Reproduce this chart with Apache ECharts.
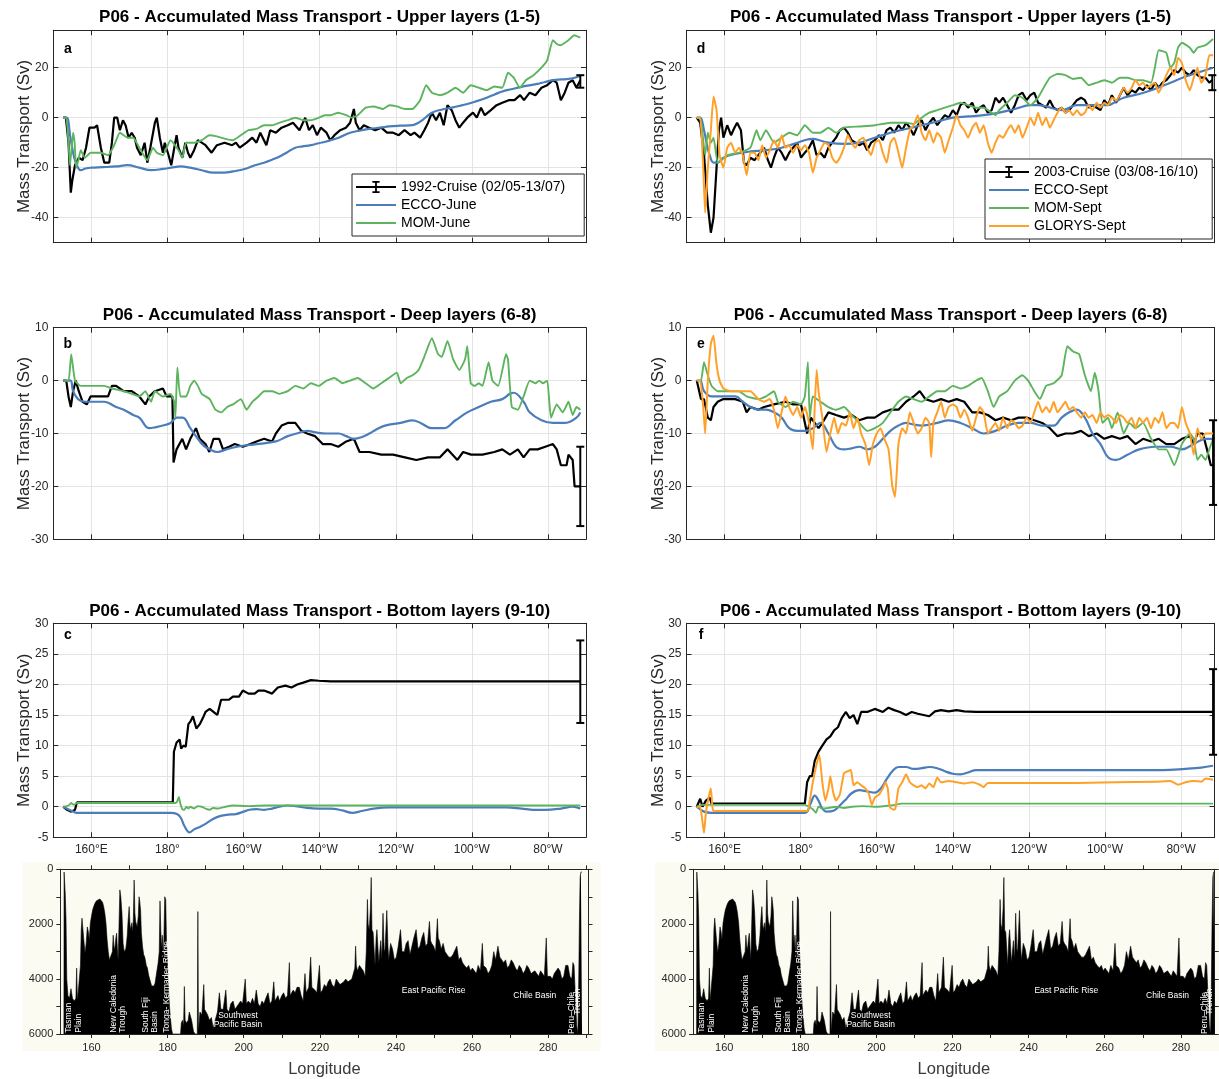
<!DOCTYPE html>
<html>
<head>
<meta charset="utf-8">
<title>P06 - Accumulated Mass Transport</title>
<script src="https://cdn.jsdelivr.net/npm/echarts@6/dist/echarts.min.js"></script>
<style>
  html, body { margin: 0; padding: 0; background: #ffffff; }
  #chart { width: 1219px; height: 1079px; }
</style>
</head>
<body>
<div id="chart"></div>
<script>
// ---------------- data ----------------
const LON_TICKS = [160, 180, 200, 220, 240, 260, 280];
const BATHY_LON_TICKS = [160, 170, 180, 190, 200, 210, 220, 230, 240, 250, 260, 270, 280, 290];
const UPPER_TICKS = [-40, -20, 0, 20];
const DEEP_TICKS = [-30, -20, -10, 0, 10];
const BOTTOM_TICKS = [-5, 0, 5, 10, 15, 20, 25, 30];
const DEPTH_TICKS = [0, 1000, 2000, 3000, 4000, 5000, 6000];
const DEPTH_LABELS = [0, 2000, 4000, 6000];

const TITLES = [
  'P06 - Accumulated Mass Transport - Upper layers (1-5)',
  'P06 - Accumulated Mass Transport - Deep layers (6-8)',
  'P06 - Accumulated Mass Transport - Bottom layers (9-10)'
];
const LETTERS = [['a', 'b', 'c'], ['d', 'e', 'f']];
const NAMES_1992 = ['1992-Cruise (02/05-13/07)', 'ECCO-June', 'MOM-June'];
const NAMES_2003 = ['2003-Cruise (03/08-16/10)', 'ECCO-Sept', 'MOM-Sept', 'GLORYS-Sept'];

// 1992 occupation, upper layers (lon, Sv)
const cruise1992Upper = [[152.6,0],[153.3,0],[154.0,-10],[154.6,-30],[155.0,-25],[155.7,-19],[156.7,-16],[157.7,-17],[158.6,-12],[159.5,-4],[160.8,-4],[161.5,-3],[162.5,-12],[163.4,-18],[164.7,-18],[165.4,-10],[166.0,0],[166.8,0],[167.5,-5],[168.3,-1],[169.0,-3],[169.8,-8],[170.6,-6],[171.4,-8],[172.0,-12],[173.0,-15],[174.0,-10],[174.7,-18],[175.5,-12],[176.7,-2],[177.2,0],[178.0,-8],[178.8,-14],[179.3,-10],[180.3,-15],[181.0,-19],[181.8,-12],[182.4,-7],[182.9,-12],[183.9,-16],[184.7,-10],[185.4,-14],[186.0,-16],[187.0,-13],[188.0,-9],[189.0,-10],[190.0,-11],[191.6,-14],[193.0,-11],[195.0,-10],[197.0,-11],[198.0,-10],[199.0,-12],[200.8,-10],[202.3,-8],[203.4,-10],[204.4,-6],[206.0,-11],[207.0,-5],[208.5,-6],[210.0,-4],[211.6,-3],[213.0,-2],[214.7,-5],[216.2,0],[217.2,-5],[218.2,-3],[219.3,-7],[220.3,-4],[221.8,-6],[222.8,-9],[223.9,-7],[225.4,-5],[226.9,-4],[228.0,-2],[229.0,3.5],[229.5,-2],[230.5,-5],[231.6,-3],[233.0,-4],[234.6,-5],[236.2,-4],[237.7,-6],[239.3,-6],[240.8,-7],[242.3,-5],[243.9,-7],[244.9,-6],[246.4,-8],[247.5,-5],[248.5,-2],[249.5,2],[250.6,-1],[251.6,2],[252.6,-3],[253.6,5],[254.7,3],[255.7,-1],[256.7,-4],[257.7,-2],[258.8,0],[260.3,2],[261.3,0],[262.4,4],[263.4,1],[265.0,3],[266.5,5],[268.0,6],[269.7,7],[271.2,7],[272.7,9],[273.7,7],[275.2,10],[276.7,9],[278.3,12],[279.8,13],[281.3,15],[282.3,14],[283.4,7],[284.4,10],[285.4,14],[286.5,15],[287.5,12],[288.5,15]];
const eccoJuneUpper = [[152.6,0],[153.5,0],[154.5,-8],[155.5,-16],[156.5,-20],[157.2,-21],[158.5,-20.3],[160,-20],[163,-19.8],[166.5,-19.5],[169.5,-19],[172.6,-20],[175.7,-21],[178.8,-20.5],[181,-20],[183.4,-19.5],[186,-20],[189,-21],[192,-22],[195,-22],[197.2,-21.5],[200.3,-20.5],[203,-19],[205.4,-18],[207.5,-16.8],[209.5,-15.5],[211.5,-13.8],[213.6,-12],[215.5,-11.5],[217.7,-11],[219.8,-10.2],[221.8,-9.5],[225,-8],[228,-6],[230.5,-5.2],[233,-4.5],[236,-4],[238.2,-3.5],[241,-3.2],[244.4,-3],[246,-2],[247,-1],[249.5,2],[252,3.2],[254.7,4],[257,4.8],[258.8,5.5],[261,6.5],[263.9,8],[266,9.3],[268,10.5],[270,11.3],[272.1,12],[274.6,12.8],[277.2,13.5],[279.3,14.3],[281.3,15],[283.4,15.3],[285.4,15.5],[287,16],[288.5,16.8]];
const momJuneUpper = [[152.6,0],[153.4,0],[154.0,-10],[154.4,-19],[155.2,-6],[155.6,-10],[156.0,-20],[156.6,-17],[157.2,-13],[158.3,-16],[159.8,-14],[162.4,-14],[164.4,-15],[166.0,-11],[167.5,-6],[169.5,-8],[171.0,-8],[172.6,-12],[174.7,-17],[176.2,-12],[177.2,-14],[178.8,-15],[180.8,-9],[182.9,-13],[183.9,-16],[184.9,-10],[187.0,-10],[189.0,-9],[191.0,-7],[193.0,-7.5],[195.2,-8.5],[197.2,-9],[199.3,-7],[201.3,-5],[203.4,-4.5],[205.4,-3],[207.5,-3],[209.5,-2],[211.6,-1],[213.6,0],[215.7,-1],[217.7,-1],[219.8,0],[221.3,1],[222.9,1],[224.9,2],[227.0,1],[228.5,0],[230.0,1],[232.1,4],[234.2,4.5],[236.7,3.5],[238.3,5],[240.3,4.5],[242.4,3.5],[244.4,3.5],[246.4,7],[248.0,13],[249.5,10],[251.6,9],[253.6,10],[255.7,12],[257.7,10],[259.7,13],[261.8,12],[263.9,11],[265.9,12.5],[268.0,12],[269.5,18],[271.0,16],[272.6,12],[274.2,15],[276.2,17],[278.3,20],[279.8,23],[281.3,31],[282.3,29.5],[283.4,29],[285.4,31],[286.9,33],[288.5,32]];
const err1992Upper = [[288.5, 12, 17]];

// 1992 occupation, deep layers
const cruise1992Deep = [[152.6,0],[153.4,0],[154.0,-3],[154.6,-5],[155.2,-2],[155.9,0],[156.7,-2],[157.7,-4],[158.8,-4.5],[159.8,-3],[162.4,-3],[164.4,-3],[165.4,-1],[166.5,-1],[168.5,-2],[170.6,-2],[172.6,-3],[174.2,-4.5],[175.2,-3],[176.7,-2],[178.8,-1.5],[179.8,-3],[181.3,-3],[181.6,-15.5],[182.4,-13],[183.9,-11],[184.9,-13],[186.0,-11],[187.5,-9],[188.5,-11],[190.0,-12],[191.0,-13.5],[192.1,-11],[193.6,-11],[194.6,-13],[196.2,-12.5],[197.7,-12],[199.8,-12.5],[201.8,-12],[203.4,-11.5],[205.4,-11],[207.5,-11.5],[208.5,-10],[210.0,-8.5],[211.6,-8],[213.6,-8],[215.2,-9.5],[216.7,-10],[218.8,-10.5],[220.8,-12],[222.9,-12],[224.9,-12.5],[227.0,-11.5],[229.0,-11],[230.5,-13.5],[233.1,-13.5],[236.2,-14],[239.3,-14],[242.4,-14.5],[245.4,-15],[248.5,-14.5],[251.6,-14.5],[253.6,-13],[256.2,-15],[257.7,-13.5],[259.8,-14],[262.8,-14],[265.9,-13.5],[268.0,-13],[270.0,-14],[272.1,-13],[273.6,-14.5],[275.2,-13],[277.3,-13],[279.3,-12.5],[281.3,-12],[282.3,-13],[283.4,-16],[284.9,-16],[285.4,-14],[286.5,-15],[287.0,-20],[288.0,-20],[288.5,-20]];
const eccoJuneDeep = [[152.6,0],[154.5,0],[155.2,-2],[156.5,-3.5],[158.3,-4],[163.4,-4],[166.5,-5],[168.5,-5.5],[171.0,-6.5],[172.6,-7],[175.2,-9],[177,-8.8],[178.8,-8.5],[180.8,-8],[182.5,-7],[184.0,-7],[186.0,-9],[188.0,-11],[189.5,-12.3],[191.1,-13],[193.1,-13.5],[195.5,-13],[198.3,-12.5],[203.4,-12],[208.5,-11.5],[211.6,-10.5],[214,-10],[216.7,-9.5],[219,-9.8],[221.8,-10],[225.0,-10],[227,-10.5],[229.0,-11],[231,-10.7],[233.1,-10],[235,-9.2],[237.2,-8.5],[241.3,-8],[244.4,-7.5],[246.5,-8],[249.5,-9],[252.6,-9],[255.7,-7.5],[258.8,-6],[261.8,-5],[265.0,-4],[268.0,-3.5],[270.0,-2.5],[271.0,-2.3],[273.6,-4],[275.2,-6],[278.3,-7.5],[281.3,-8],[284.4,-8],[287.5,-7],[288.5,-6]];
const momJuneDeep = [[152.6,0],[154.0,0],[154.7,5],[155.7,0],[157.2,-1],[161.3,-1],[163.4,-1],[165.4,-1.5],[168.5,-2],[170.6,-2.5],[172.6,-3],[174.2,-2],[175.7,-4],[176.7,-2],[178.8,-3],[180.8,-2.5],[181.8,-4],[182.1,-7],[182.6,2.5],[183.4,-3],[184.9,-3],[186.0,-1],[187.0,0],[188.0,-1],[189.0,-2.5],[191.1,-3.5],[192.6,-5.5],[194.2,-6],[195.7,-5],[197.2,-4.5],[199.3,-3.5],[200.8,-5.5],[202.3,-4],[203.9,-3],[205.4,-2],[207.5,-2],[209.5,-2.5],[211.6,-2],[213.6,-1],[215.7,-1.5],[217.7,-0.5],[219.8,-1],[221.8,0],[223.9,0.5],[226.0,-0.5],[228.0,0],[230.0,0.5],[232.1,-0.5],[234.1,-1.5],[236.2,-0.5],[238.2,0.5],[240.3,1.5],[241.3,-0.5],[242.9,0.5],[244.4,1],[246.0,2],[247.5,4.5],[249.5,8],[251.1,5],[252.1,4.5],[253.6,7.5],[255.1,4],[256.7,2],[258.2,4],[258.8,6.5],[259.7,-0.5],[260.8,-1],[261.8,-0.5],[262.8,-1],[264.4,3.5],[265.4,0],[266.9,-1],[268.6,4],[269.0,5],[269.5,4],[270.5,-5],[272.1,-5.5],[273.6,-3],[275.2,0],[276.7,-0.5],[277.7,0],[278.7,-0.5],[279.8,0],[280.8,-7],[282.3,-4.5],[283.9,-6],[285.4,-4],[286.5,-6.5],[287.5,-5],[288.5,-5.5]];
const err1992Deep = [[288.5, -27.5, -12.5]];

// 1992 occupation, bottom layers
const cruise1992Bottom = [[152.6,0],[153.6,-0.5],[154.7,-0.8],[155.7,-0.5],[156.2,0.7],[181.4,0.7],[181.7,9],[182.4,10.5],[183.2,11],[183.6,9.5],[184.2,10],[184.8,9.8],[185.5,13.5],[186.1,14],[186.7,14.8],[187.6,12.8],[188.5,13.5],[189.3,14.5],[190.0,15.5],[191.1,16],[192.1,15.5],[193.1,15],[194.1,17.5],[195.2,17.5],[196.2,17.5],[197.2,18],[198.8,18],[199.8,19],[201.3,18.5],[202.9,18.5],[203.9,19],[205.4,19],[207.5,18.5],[209.0,19.5],[211.0,19.8],[212.6,19.5],[214.1,20],[215.7,20.3],[217.7,20.7],[219.8,20.6],[222.9,20.5],[226.0,20.5],[288.5,20.5]];
const eccoJuneBottom = [[152.6,0],[155.2,-0.8],[156.2,-1],[180.8,-1],[182.5,-1.2],[183.5,-1.8],[184.5,-3.2],[185.8,-4.2],[187.0,-3.7],[188.5,-3.3],[190.0,-2.8],[192.0,-2],[194.0,-1.5],[196.0,-1.3],[198.0,-1.2],[200.0,-0.8],[201.5,-0.5],[203.4,-0.4],[205.4,-0.5],[207.5,-0.3],[209.5,0],[211.6,0.2],[213.6,0.1],[216.7,-0.2],[219.8,-0.3],[222.9,-0.3],[226.0,-0.6],[228.5,-1],[231.1,-0.7],[234.2,-0.3],[238.3,-0.1],[248.5,-0.1],[269.0,-0.1],[273.1,-0.3],[276.2,-0.5],[279.3,-0.5],[283.4,-0.3],[286.5,0],[288.5,-0.3]];
const momJuneBottom = [[152.6,0],[154.0,0.2],[154.7,0.6],[155.4,0.3],[156.2,0.6],[181.8,0.6],[182.5,0.8],[183.0,1.6],[183.4,0.5],[183.9,-0.4],[184.4,-0.5],[185.0,0],[185.5,-0.3],[186.0,0],[187.0,-0.3],[188.0,0.1],[189.0,0],[190.0,-0.3],[191.1,-0.5],[192.0,-0.2],[193.1,-0.3],[195.2,0],[197.2,0.2],[201.3,0.1],[205.4,0.2],[288.5,0.2]];
const err1992Bottom = [[288.5, 13.7, 27.2]];

// 2003 occupation, upper layers
const cruise2003Upper = [[152.7,0],[153.6,-2],[154.6,-15],[155.6,-35],[156.4,-46],[157.1,-40],[157.9,-20],[158.5,-5],[159.1,0],[159.7,-8],[160.7,-3],[161.7,-7],[162.6,-4],[163.3,-2],[164.3,-5],[165.1,-18],[165.8,-19],[166.8,-16],[167.9,-17],[168.9,-15],[170.4,-12],[171.4,-17],[172.2,-20],[173.0,-16],[174.0,-12],[175.0,-14],[176.0,-17],[177.0,-14],[178.0,-12],[179.1,-10],[180.1,-16],[181.1,-14],[182.2,-12],[183.2,-9],[184.2,-15],[185.2,-14],[186.3,-16],[187.3,-12],[188.3,-10],[189.3,-8],[190.3,-5],[191.4,-4],[192.4,-6],[193.4,-9],[194.4,-10],[195.4,-11],[196.5,-10],[197.5,-13],[198.5,-10],[199.5,-9],[200.6,-7],[201.6,-9],[202.6,-5],[203.6,-4],[204.6,-6],[205.7,-3],[206.7,-5],[207.7,-2],[208.7,-4],[209.7,-7],[210.8,-3],[211.8,-1],[212.8,-5],[213.8,-2],[214.9,0],[215.9,-3],[216.9,-1],[217.9,1],[218.9,0],[220.0,3],[221.0,1],[222.0,5],[223.0,6],[224.0,4],[225.1,6],[226.1,2],[227.1,4],[228.1,5],[229.2,2],[230.2,3],[231.2,8],[232.2,6],[233.2,8],[234.3,5],[235.3,2],[236.3,5],[237.3,9],[238.3,10],[239.4,7],[240.4,9],[241.4,10],[242.4,6],[243.5,5],[244.5,4],[245.5,7],[246.5,4],[247.5,3],[248.6,4],[249.6,2],[250.6,3],[251.6,5],[252.6,7],[253.7,8],[254.7,7],[255.7,4],[256.7,5],[257.8,4],[258.8,3],[259.8,7],[260.8,5],[261.8,9],[262.9,6],[263.9,9],[264.9,12],[265.9,9],[267.0,11],[268.0,10],[269.0,12],[270.0,11],[271.0,13],[272.1,11],[273.1,14],[274.1,12],[275.1,14],[276.1,15],[277.2,17],[278.2,19],[279.2,18],[280.2,20],[281.2,18],[282.3,17],[283.3,19],[284.3,17],[285.3,16],[286.4,16],[287.4,14],[288.2,15]];
const eccoSeptUpper = [[152.7,0],[153.6,0],[154.6,-5],[155.4,-11],[156.1,-15],[157.1,-18],[158.2,-18],[159.7,-16],[162.8,-14.5],[166.8,-13.5],[170.9,-13],[175.0,-12],[179.1,-10],[181.5,-8.8],[183.2,-8.5],[185.5,-9.3],[187.3,-10],[191.4,-10.5],[195.4,-10],[197.5,-9],[199.5,-8],[203.6,-6],[207.7,-4.5],[211.8,-3],[215.9,-1.5],[220.0,0],[224.0,0.5],[228.1,1],[232.2,2],[236.3,3.5],[240.4,5],[242.5,5],[244.5,4.5],[248.6,3],[252.6,5],[256.7,5],[260.8,5],[262.9,6.5],[264.9,8],[269.0,9.5],[273.1,11.5],[277.2,14],[281.2,16.5],[285.3,18.5],[288.4,20]];
const momSeptUpper = [[152.7,0],[153.6,0],[154.1,-5],[154.9,-15],[155.6,-6],[156.4,-10],[157.1,-8],[158.2,-18],[159.2,-17],[160.7,-15],[163.8,-14],[166.8,-12],[168.4,-5],[169.4,-9],[170.9,-5],[173.0,-10],[175.0,-8],[177.0,-6],[179.1,-7],[181.1,-3],[183.2,-6],[185.2,-6],[187.3,-4],[189.3,-6],[191.4,-4],[195.4,-3.5],[199.5,-3],[203.6,-2],[207.7,-2],[209.7,-2.5],[211.8,0],[213.8,2],[215.9,3],[217.9,4],[220.0,5],[222.0,6],[224.0,5],[226.1,4],[228.1,4],[230.2,2],[231.2,1],[232.2,3],[234.3,6],[236.3,9],[238.3,8],[240.4,5],[242.4,8],[243.5,11],[245.5,16],[247.5,17.5],[249.6,17],[251.6,15.5],[253.7,16],[255.7,13],[257.8,14],[259.8,15],[261.8,14],[263.9,16],[265.9,16],[268.0,15],[270.0,15],[272.1,14],[273.1,20],[274.1,27],[276.1,26],[277.2,20],[278.2,22],[279.2,28],[280.2,30],[282.3,28],[283.3,26],[284.3,28],[286.4,29],[288.4,31.5]];
const glorysSeptUpper = [[152.7,0],[153.6,0],[154.4,-20],[154.9,-38],[155.6,-20],[156.4,-5],[157.1,8.5],[157.9,3],[158.7,-15],[159.7,-20],[160.7,-12],[161.7,-10],[162.8,-14],[163.8,-12],[164.8,-15],[165.8,-23],[166.8,-14],[167.9,-14],[168.9,-17],[169.9,-11],[170.9,-16],[171.9,-13],[173.0,-9],[174.0,-12],[175.0,-7],[176.0,-12],[177.0,-11],[178.0,-14],[179.1,-11],[180.1,-13],[181.1,-11],[182.2,-14],[183.2,-22],[184.2,-16],[185.2,-13],[186.3,-10],[187.3,-11],[188.3,-16],[189.3,-18],[190.3,-16],[191.4,-12],[192.4,-7],[193.4,-10],[194.4,-12],[195.4,-9],[196.5,-8],[197.5,-12],[198.5,-15],[199.5,-10],[200.6,-9],[201.6,-14],[202.6,-18],[203.6,-10],[204.6,-8],[205.7,-14],[206.7,-20],[207.7,-12],[208.7,-5],[209.7,-3],[210.8,1],[211.8,-6],[212.8,-9],[213.8,-5],[214.9,-10],[215.9,-6],[216.9,-8],[217.9,-14],[218.9,-9],[220.0,-4],[221.0,1],[222.0,-3],[223.0,-5],[224.0,-8],[225.1,-4],[226.1,-2],[227.1,-6],[228.1,-3],[229.2,-10],[230.2,-14],[231.2,-10],[232.2,-7],[233.2,-8],[234.3,-5],[235.3,-3],[236.3,-6],[237.3,-3],[238.3,-8],[239.4,-4],[240.4,0],[241.4,-3],[242.4,2],[243.5,-3],[244.5,0],[245.5,-4],[246.5,-1],[247.5,2],[248.6,4],[249.6,2],[250.6,3],[251.6,1],[252.6,3],[253.7,1],[254.7,2],[255.7,5],[256.7,3],[257.8,6],[258.8,4],[259.8,6],[260.8,5],[261.8,8],[262.9,7],[263.9,9],[264.9,12],[265.9,10],[267.0,12],[268.0,15],[269.0,13],[270.0,14],[271.0,12],[272.1,13],[273.1,14],[274.1,10],[275.1,13],[276.1,17],[277.2,20],[278.2,17],[279.2,24],[280.2,22],[281.2,15],[282.3,11],[283.3,16],[284.3,20],[285.3,14],[286.4,17],[287.4,25],[288.4,25]];
const err2003Upper = [[288.2, 11, 17]];

// 2003 occupation, deep layers
const cruise2003Deep = [[152.7,0],[153.8,-3.5],[154.6,-3.5],[155.6,-7],[156.4,-7.5],[157.1,-5],[158.2,-4],[159.7,-3.5],[162.8,-3.5],[164.8,-4],[165.8,-6],[166.8,-5],[168.9,-5.5],[170.4,-5],[173.0,-4.5],[176.0,-4],[178.0,-4.5],[180.1,-4.5],[181.7,-10],[182.7,-7],[183.7,-8],[184.7,-9],[185.7,-8],[187.3,-6],[189.3,-6.5],[191.4,-7],[193.4,-6.5],[195.4,-7.5],[197.5,-7],[199.5,-7],[201.6,-6],[203.6,-5.5],[205.7,-5.5],[207.7,-4],[209.7,-3],[211.3,-2],[212.8,-3.5],[214.9,-4],[216.9,-3.5],[218.9,-4],[221.0,-3.5],[223.0,-4],[225.1,-6],[227.1,-6],[229.2,-6.5],[231.2,-7.5],[233.2,-7],[235.3,-7.5],[237.3,-7],[239.4,-7],[241.4,-7.5],[243.5,-8],[245.5,-9],[247.5,-10.5],[249.6,-10],[251.6,-10],[253.7,-9.5],[255.7,-10.5],[257.8,-10],[259.8,-11],[261.8,-10.5],[263.9,-11],[265.9,-10.5],[268.0,-12],[270.0,-11],[272.1,-11.5],[274.1,-11],[276.1,-12],[278.2,-12],[280.2,-11],[282.3,-10.5],[283.3,-12],[284.3,-10],[285.7,-10],[286.8,-13],[287.8,-16],[288.4,-16]];
const eccoSeptDeep = [[152.7,0],[153.6,0],[154.6,-2],[156.6,-3],[158.7,-3],[162.8,-3],[164.8,-4],[166.8,-5],[168.9,-5.5],[170.9,-5.5],[173.0,-6],[175.0,-7],[177.0,-9],[179.1,-9.5],[181.1,-9.5],[183.2,-9],[185.2,-8],[187.3,-10],[189.3,-12.5],[191.4,-13],[193.4,-12.8],[195.4,-12.5],[197.5,-13],[199.5,-12.5],[201.6,-11],[203.6,-9.5],[205.7,-8.5],[207.7,-8],[209.7,-8.3],[211.8,-8.5],[215.9,-8],[218.9,-7.5],[222.0,-8],[225.1,-9],[228.1,-10],[231.2,-9.5],[234.3,-8.5],[237.3,-8],[240.4,-8],[243.5,-8.5],[246.5,-8.5],[248.6,-7],[250.6,-6],[252.6,-5.5],[254.7,-7],[256.7,-10],[258.8,-12],[260.8,-14.5],[262.9,-15],[265.9,-14],[269.0,-13],[273.1,-12.5],[277.2,-12.5],[280.2,-13],[283.3,-12],[286.4,-11],[288.4,-11]];
const momSeptDeep = [[152.7,0],[153.8,0],[154.6,3.5],[155.6,1],[156.6,-1],[158.2,-2],[160.7,-2],[163.8,-2],[165.8,-3],[168.9,-3.5],[170.9,-3],[173.0,-2],[174.0,-4],[176.0,-5],[178.0,-4],[180.1,-4.5],[181.1,-3],[181.9,3.5],[182.4,-7],[183.2,-3],[185.2,-4],[187.3,-5],[189.3,-5.5],[191.4,-5],[193.4,-6.5],[195.4,-8],[197.5,-9.5],[199.5,-9],[201.6,-8],[203.6,-6],[205.7,-4],[207.7,-3],[209.7,-3.5],[211.8,-4],[213.8,-3],[215.9,-2],[217.9,-2],[220.0,-1],[222.0,-1.5],[224.0,-1],[226.1,0],[227.6,0.5],[229.2,-2],[230.7,-5],[232.2,-3],[234.3,-2],[236.3,0],[238.3,1],[239.8,0],[241.4,-2],[242.9,-3.5],[244.5,-1],[246.5,-0.5],[248.6,1],[250.1,6.5],[251.6,5.5],[253.2,5],[254.7,1],[256.3,-2],[257.3,1.5],[258.3,-2],[259.3,-8],[260.8,-7],[261.8,-9],[263.3,-6],[264.9,-10],[266.4,-8],[268.0,-9],[270.0,-8],[272.1,-11],[274.1,-13],[276.1,-13],[278.2,-16],[280.2,-12],[282.3,-10],[283.3,-11],[284.3,-15],[285.3,-14],[286.4,-15],[287.4,-13],[288.4,-11]];
const glorysSeptDeep = [[152.7,0],[153.6,0],[154.4,-5],[154.9,-10],[155.6,0],[156.4,7],[157.1,8.5],[157.9,3],[158.7,0],[159.7,-1.5],[161.7,-2],[164.8,-2],[166.8,-2],[168.9,-3.5],[170.4,-4],[171.9,-3.5],[173.0,-5.5],[174.0,-9],[175.0,-6],[176.0,-3],[177.0,-5],[178.0,-6.5],[179.1,-5],[180.1,-7],[181.1,-5],[182.2,-8],[183.2,-13],[183.7,-5],[184.2,2],[184.7,-2],[185.7,-7],[186.8,-13.5],[187.8,-10],[188.8,-7],[189.8,-10],[190.8,-8],[191.9,-8.5],[192.9,-6],[193.9,-9],[194.9,-7],[195.9,-10],[197.0,-12],[198.0,-16],[199.0,-12],[200.0,-10],[201.0,-9],[202.0,-11],[203.1,-13],[204.1,-20],[204.8,-22],[205.7,-12],[206.7,-9],[207.7,-10],[208.7,-6],[209.7,-8],[210.8,-10],[211.8,-9],[212.8,-7],[213.8,-8],[214.3,-14.5],[214.9,-8],[215.9,-6],[216.9,-4],[217.9,-7],[218.9,-5],[220.0,-4.5],[221.0,-5],[222.0,-7],[223.0,-5.5],[224.0,-7],[225.1,-9.5],[226.1,-7],[227.1,-5],[228.1,-6],[229.2,-10],[230.2,-9],[231.2,-8],[232.2,-9.5],[233.2,-7],[234.3,-9],[235.3,-7.5],[236.3,-8],[237.3,-9],[238.3,-8.5],[239.4,-7],[240.4,-8],[241.4,-6],[242.4,-4],[243.5,-6],[244.5,-5],[245.5,-6],[246.5,-4],[247.5,-6],[248.6,-5],[249.6,-4],[250.6,-5.5],[251.6,-5],[252.6,-6],[253.7,-7],[254.7,-6],[255.7,-7],[256.7,-6.5],[257.8,-8],[258.8,-6],[259.8,-7],[260.8,-6.5],[261.8,-7],[262.9,-8],[263.9,-6.5],[264.9,-7],[265.9,-8],[267.0,-7],[268.0,-9],[269.0,-7],[270.0,-8],[271.0,-7],[272.1,-9],[273.1,-7],[274.1,-8],[275.1,-6],[276.1,-9],[277.2,-8],[278.2,-8],[279.2,-9],[280.2,-5],[281.2,-8],[282.3,-10],[283.3,-14],[284.3,-9],[285.3,-11],[286.4,-10],[287.4,-10],[288.4,-10]];
const err2003Deep = [[288.4, -23.5, -7.5]];

// 2003 occupation, bottom layers
const cruise2003Bottom = [[152.7,0],[153.6,1.3],[154.2,0],[155.1,1],[156.1,1.5],[156.6,0.5],[181.1,0.5],[181.7,4],[182.4,5],[183.0,5],[183.7,7.5],[184.7,9],[185.7,10],[186.8,11],[187.8,11.5],[188.8,12.5],[189.8,13],[190.8,14.5],[191.9,15.5],[192.9,14.5],[193.9,15],[194.9,13.5],[195.9,15.5],[197.5,15.5],[199.5,16],[201.6,15.5],[203.1,16.2],[204.6,15.8],[206.1,15.5],[207.7,15],[209.2,15.5],[210.8,15.2],[212.3,15],[213.8,14.8],[215.3,15.6],[216.9,15.8],[218.9,15.6],[221.0,15.8],[223.0,15.6],[226.1,15.5],[288.4,15.5]];
const eccoSeptBottom = [[152.7,0],[154.6,-0.8],[156.6,-1],[181.1,-1],[182.6,0.5],[183.7,1.8],[184.7,1],[185.7,-0.3],[186.8,-0.8],[188.8,-0.6],[190.3,0.2],[191.9,1.2],[193.4,2.2],[195.4,2.7],[197.5,2.5],[199.5,2.3],[201.1,3],[202.6,4.5],[204.1,5.8],[205.7,6.5],[207.7,6.5],[209.7,6.2],[211.8,6.3],[213.8,6.5],[215.9,6.3],[217.9,5.8],[220.0,5.4],[222.0,5.3],[224.0,5.6],[226.1,6],[232.2,6],[275.1,6],[281.2,6.2],[285.3,6.4],[288.4,6.7]];
const momSeptBottom = [[152.7,0],[154.1,0.3],[181.1,0.3],[182.2,0],[183.2,-0.4],[184.0,-1],[184.7,0],[185.7,-0.3],[187.3,-0.2],[189.3,0],[191.4,-0.2],[193.4,0],[196.5,0.1],[199.5,0],[203.6,0.2],[206.7,0.5],[288.4,0.5]];
const glorysSeptBottom = [[152.7,0],[153.6,0],[154.1,-2],[154.6,-4.3],[155.1,-1],[155.8,1.5],[156.4,3],[156.8,0],[157.1,-0.7],[181.7,-0.7],[182.4,1],[183.2,4],[184.2,7],[184.9,8.5],[185.7,4],[186.5,1],[187.3,3],[187.8,5],[188.5,2.5],[189.3,1],[190.3,2],[191.4,5.5],[192.4,5.8],[193.2,6],[193.9,3.5],[194.9,4],[195.9,3.5],[197.0,3],[198.0,2],[198.7,0.3],[199.5,1.5],[200.6,2],[201.6,3],[202.3,4],[202.9,3],[203.4,0],[204.4,-0.5],[204.9,-0.3],[205.7,3],[206.7,4],[207.7,5.3],[208.7,4],[209.7,3.5],[210.8,3.2],[211.8,3.5],[212.8,3],[213.8,3.8],[214.9,3.2],[215.9,4.8],[216.9,4],[218.9,4.2],[221.0,4],[223.0,3.8],[225.1,4],[227.1,3.6],[228.1,3.2],[229.2,3.9],[242.4,3.9],[252.6,3.9],[273.1,4.1],[277.2,4.2],[279.2,3.6],[281.2,4],[283.3,4.2],[285.3,4.1],[286.4,4.6],[288.4,4.4]];
const err2003Bottom = [[288.4, 8.5, 22.5]];

// Seafloor depth along the section (lon, m)
const bathymetry = [[152.75,6000],[152.8,100],[152.95,60],[153.1,900],[153.3,1800],[153.5,4000],[153.8,4600],[154.2,4700],[154.6,4350],[155.0,4700],[155.5,4800],[155.9,4700],[156.1,3600],[156.3,4800],[156.8,4800],[157.1,3500],[157.3,2200],[157.5,1780],[157.8,1850],[158.0,2600],[158.3,3050],[158.6,2700],[158.9,2100],[159.2,2300],[159.4,2570],[159.7,1960],[160.0,1700],[160.3,1480],[160.6,1350],[160.9,1240],[161.3,1150],[161.8,1090],[162.2,1080],[162.6,1110],[162.9,1200],[163.2,1360],[163.5,1600],[163.8,1960],[164.1,2570],[164.4,3000],[164.7,3300],[165.2,3350],[165.5,3000],[165.7,2400],[165.9,2800],[166.1,2930],[166.4,2500],[166.6,2330],[166.8,2900],[167.0,3300],[167.2,2200],[167.45,750],[167.7,1000],[168.0,1600],[168.3,2700],[168.6,3000],[168.8,3050],[169.0,2900],[169.2,2690],[169.4,2400],[169.6,1900],[169.9,1360],[170.1,2000],[170.3,2200],[170.6,1950],[170.8,2300],[171.0,1800],[171.2,390],[171.4,1600],[171.6,1900],[172.0,2100],[172.3,1700],[172.5,1000],[172.7,1200],[172.9,1500],[173.1,2300],[173.4,2800],[173.7,3100],[174.0,3200],[174.4,3500],[174.7,3600],[175.0,3850],[175.4,4050],[175.8,4250],[176.1,4270],[176.4,4250],[176.7,4150],[177.1,3780],[177.5,3420],[177.8,3000],[178.0,1150],[178.2,2200],[178.4,2900],[178.6,2400],[178.9,3300],[179.1,2000],[179.25,1000],[179.5,1100],[179.7,2600],[180.0,3600],[180.3,4600],[180.6,5200],[181.0,5800],[181.3,6000],[183.4,6000],[183.6,5600],[183.9,5500],[184.2,5700],[184.4,4270],[184.6,5500],[185.0,5600],[185.4,5500],[185.7,5200],[185.9,5300],[186.3,5500],[186.8,5900],[187.2,6000],[187.8,6000],[187.95,1540],[188.1,5900],[188.5,5200],[189.0,5300],[189.5,4200],[189.7,5100],[190.0,5100],[190.5,5300],[191.0,5500],[191.5,5400],[192.0,5800],[192.5,5500],[193.1,5200],[193.6,4500],[194.0,5100],[194.6,5100],[195.3,4400],[195.6,5100],[196.1,5200],[196.6,4900],[197.2,4800],[197.7,5100],[198.2,5100],[198.7,4900],[199.2,4800],[199.7,4900],[200.4,4000],[200.7,4900],[201.2,4800],[201.8,4900],[202.3,4700],[202.8,4900],[203.3,4400],[203.8,4900],[204.3,5000],[204.8,4800],[205.3,4900],[205.8,4700],[206.4,4500],[206.9,4900],[207.4,4800],[207.9,4100],[208.2,4800],[208.6,4800],[209.0,4600],[209.4,4800],[210.0,4600],[210.5,4500],[211.0,4700],[211.5,4600],[212.0,3400],[212.2,4600],[212.5,4600],[213.0,4400],[213.5,4500],[214.0,4300],[214.6,4300],[215.1,4600],[215.6,4800],[216.1,3800],[216.4,4500],[216.6,4500],[217.1,4300],[217.6,3200],[217.9,4300],[218.1,4300],[218.7,4400],[219.2,4500],[219.9,3500],[220.2,4500],[220.7,4400],[221.2,4200],[221.7,4300],[222.2,4100],[222.7,4000],[223.2,4200],[223.8,4300],[224.3,4000],[224.8,4100],[225.3,4200],[225.8,4200],[226.3,4100],[226.8,4000],[227.4,4100],[227.9,4100],[228.4,4000],[228.9,4000],[229.2,3600],[229.4,2800],[229.6,3500],[229.9,3700],[230.4,3500],[230.9,3600],[231.4,3700],[231.9,3900],[232.2,3000],[232.5,1100],[232.7,2000],[233.0,2200],[233.3,1400],[233.5,300],[233.7,2200],[234.0,2300],[234.5,3500],[234.8,2500],[235.0,2200],[235.5,3400],[236.0,2600],[236.3,3300],[236.6,1600],[236.9,2900],[237.1,3000],[237.6,1500],[237.9,2800],[238.1,3300],[238.6,2700],[239.1,2900],[239.6,3300],[240.1,3200],[240.6,2800],[241.2,2200],[241.6,3000],[242.2,3000],[242.7,2700],[243.2,2600],[243.7,3100],[244.2,2800],[244.7,2500],[245.3,2200],[245.8,2900],[246.3,2800],[246.8,2500],[247.3,2300],[247.8,2800],[248.3,2700],[248.8,1900],[249.1,2600],[249.4,2700],[249.9,2800],[250.4,3000],[250.9,1800],[251.1,2500],[251.4,2600],[251.9,2900],[252.4,2700],[252.9,3000],[253.4,3100],[253.9,3200],[254.5,3200],[255.0,3100],[255.5,3100],[256.0,2800],[256.5,3300],[257.0,3200],[257.5,3400],[258.0,3500],[258.6,3600],[259.1,3500],[259.6,3700],[260.1,3600],[260.6,3700],[261.1,3800],[261.6,3500],[262.2,3700],[262.7,2700],[263.0,3500],[263.7,3600],[264.2,3800],[264.7,3700],[265.2,3500],[265.7,3000],[266.2,3300],[266.8,2800],[267.3,3200],[267.8,3200],[268.3,3400],[268.8,3300],[269.3,3600],[269.8,3500],[270.3,3300],[270.8,3400],[271.4,3600],[271.9,3700],[272.4,3500],[272.9,3600],[273.4,3800],[273.9,3700],[274.4,3500],[274.9,3600],[275.5,3800],[276.0,3800],[276.5,3700],[277.0,3800],[277.5,3900],[278.0,3700],[278.5,3800],[279.0,3900],[279.5,2500],[279.8,3900],[280.1,3900],[280.6,3900],[281.1,4000],[281.6,3800],[282.1,3800],[282.6,3600],[283.1,3700],[283.6,4000],[284.1,3900],[284.6,3500],[285.2,3500],[285.7,3900],[286.2,4000],[286.5,3400],[286.8,3500],[287.2,4800],[287.5,5700],[287.8,6000],[288.0,4500],[288.2,2000],[288.4,300],[288.6,100],[288.9,100]];

// Feature names along the section: [text, lon, depth, rotated]
const FEATURES = [
  ['Tasman', 154.0, 5950, true], ['Plain', 156.6, 5950, true],
  ['New Caledonia', 165.7, 5950, true], ['Trough', 168.3, 5950, true],
  ['South Fiji', 174.3, 5950, true], ['Basin', 176.7, 5950, true],
  ['Tonga- Kermadec Ridge', 179.8, 5950, true],
  ['Southwest', 198.5, 5330, false], ['Pacific Basin', 198.5, 5660, false],
  ['East Pacific Rise', 249.9, 4420, false],
  ['Chile Basin', 276.5, 4600, false],
  ['Peru\u2013Chile', 286.3, 6000, true], ['Trench', 287.7, 5300, true]
];

// ---------------- styling ----------------
const FONT = "'Liberation Sans', Arial, Helvetica, sans-serif";
const FRAME = '#262626';
const GRIDLINE = '#e4e4e4';
const TEXT = '#262626';
const C_CRUISE = '#000000';
const C_ECCO = '#4a7dba';
const C_MOM = '#5db45e';
const C_GLORYS = '#ffa028';

// page geometry (px)
const COLS = [
  { left: 53.3, width: 532.7, xmin: 150, xmax: 290 },
  { left: 686.5, width: 528.1, xmin: 150, xmax: 288.8 }
];
const ROWS = [
  { top: 30.2, height: 212.5, ymin: -50, ymax: 35, ticks: UPPER_TICKS, letterDy: 19, titleY: 17 },
  { top: 327.7, height: 211.6, ymin: -30, ymax: 10, ticks: DEEP_TICKS, letterDy: 16, titleY: 315 },
  { top: 623.3, height: 214, ymin: -5, ymax: 30, ticks: BOTTOM_TICKS, letterDy: 12, titleY: 611 }
];
const BATHY_ROW = { top: 869.3, height: 165 };
const BATHY_COLS = [
  { left: 60.3, width: 528.2, xmin: 151.8, xmax: 290.6 },
  { left: 693.0, width: 521.7, xmin: 151.8, xmax: 288.9 }
];
const LEGEND_POS = [
  { left: 352, top: 174, padRight: 19 },
  { left: 985, top: 159, padRight: 14 }
];

const ICON_LINE = 'path://M0,0h0.01v0.01h-0.01zM0,14h0.01v0.01h-0.01zM0,6.1h40v1.8h-40z';
const ICON_CRUISE = 'path://M0,0h0.01v0.01h-0.01zM0,14h0.01v0.01h-0.01zM0,6.1h40v1.8h-40zM19.1,1.3h1.8v11.4h-1.8zM16.4,1h7.2v1.8h-7.2zM16.4,11.2h7.2v1.8h-7.2z';

function lonLabel(v) {
  if (v < 180) return v + '\u00B0E';
  if (v === 180) return '180\u00B0';
  return (360 - v) + '\u00B0W';
}

const grids = [], xAxes = [], yAxes = [], series = [], graphics = [];

function axisBase(gi, extra) {
  return Object.assign({
    type: 'value', gridIndex: gi,
    axisLine: { show: true, onZero: false, lineStyle: { color: FRAME, width: 1 } },
    axisLabel: { show: false },
    splitLine: { show: false }
  }, extra);
}

// MATLAB-style framed axes: ticks inside on all four sides
function transportAxes(gi, col, row, showX) {
  const xb = xAxes.push(axisBase(gi, {
    position: 'bottom', min: col.xmin, max: col.xmax,
    axisTick: { show: true, inside: true, length: 5, customValues: LON_TICKS, lineStyle: { color: FRAME } },
    axisLabel: { show: showX, customValues: LON_TICKS, formatter: lonLabel, margin: 6,
      fontSize: 12, color: TEXT, fontFamily: FONT },
    splitLine: { show: true, lineStyle: { color: GRIDLINE, width: 1 } }
  })) - 1;
  xAxes.push(axisBase(gi, {
    position: 'top', min: col.xmin, max: col.xmax,
    axisTick: { show: true, inside: true, length: 5, customValues: LON_TICKS, lineStyle: { color: FRAME } }
  }));
  const yl = yAxes.push(axisBase(gi, {
    position: 'left', min: row.ymin, max: row.ymax,
    name: 'Mass Transport (Sv)', nameLocation: 'middle', nameGap: 20, nameMoveOverlap: false,
    nameTextStyle: { fontSize: 17, color: TEXT, fontFamily: FONT },
    axisTick: { show: true, inside: true, length: 5, customValues: row.ticks, lineStyle: { color: FRAME } },
    axisLabel: { show: true, customValues: row.ticks, margin: 5, fontSize: 12, color: TEXT, fontFamily: FONT },
    splitLine: { show: true, lineStyle: { color: GRIDLINE, width: 1 } }
  })) - 1;
  yAxes.push(axisBase(gi, {
    position: 'right', min: row.ymin, max: row.ymax,
    axisTick: { show: true, inside: true, length: 5, customValues: row.ticks, lineStyle: { color: FRAME } }
  }));
  return [xb, yl];
}

function addLine(name, data, color, width, ax, smooth, z) {
  series.push({
    type: 'line', name, data, color,
    xAxisIndex: ax[0], yAxisIndex: ax[1],
    symbol: 'none', showSymbol: false, smooth: smooth || false,
    lineStyle: { color, width }, itemStyle: { color },
    z: z, clip: true, silent: true, animation: false
  });
}

function renderErrorBar(params, api) {
  const x = api.value(0);
  const lo = api.coord([x, api.value(1)]);
  const hi = api.coord([x, api.value(2)]);
  const cap = 4;
  const style = { stroke: C_CRUISE, lineWidth: 2 };
  return {
    type: 'group', children: [
      { type: 'line', shape: { x1: lo[0], y1: lo[1], x2: hi[0], y2: hi[1] }, style },
      { type: 'line', shape: { x1: lo[0] - cap, y1: lo[1], x2: lo[0] + cap, y2: lo[1] }, style },
      { type: 'line', shape: { x1: hi[0] - cap, y1: hi[1], x2: hi[0] + cap, y2: hi[1] }, style }
    ]
  };
}

function addErrorBar(name, data, ax) {
  series.push({
    type: 'custom', name, data, color: C_CRUISE,
    xAxisIndex: ax[0], yAxisIndex: ax[1],
    encode: { x: 0, y: [1, 2] }, renderItem: renderErrorBar,
    z: 6, silent: true, animation: false
  });
}

// panel table: one entry per column/row
const PANELS = [
  { c: 0, r: 0, lines: [[cruise1992Upper, 0], [eccoJuneUpper, 1], [momJuneUpper, 2]], err: err1992Upper },
  { c: 0, r: 1, lines: [[cruise1992Deep, 0], [eccoJuneDeep, 1], [momJuneDeep, 2]], err: err1992Deep },
  { c: 0, r: 2, lines: [[cruise1992Bottom, 0], [eccoJuneBottom, 1], [momJuneBottom, 2]], err: err1992Bottom },
  { c: 1, r: 0, lines: [[cruise2003Upper, 0], [eccoSeptUpper, 1], [momSeptUpper, 2], [glorysSeptUpper, 3]], err: err2003Upper },
  { c: 1, r: 1, lines: [[cruise2003Deep, 0], [eccoSeptDeep, 1], [momSeptDeep, 2], [glorysSeptDeep, 3]], err: err2003Deep },
  { c: 1, r: 2, lines: [[cruise2003Bottom, 0], [eccoSeptBottom, 1], [momSeptBottom, 2], [glorysSeptBottom, 3]], err: err2003Bottom }
];
const LINE_STYLE = [
  { color: C_CRUISE, width: 2.2, smooth: false },
  { color: C_ECCO, width: 2.2, smooth: 0.4 },
  { color: C_MOM, width: 1.9, smooth: 0.15 },
  { color: C_GLORYS, width: 2, smooth: 0.15 }
];

PANELS.forEach(p => {
  const col = COLS[p.c], row = ROWS[p.r];
  const names = p.c === 0 ? NAMES_1992 : NAMES_2003;
  const gi = grids.push({ left: col.left, top: row.top, width: col.width, height: row.height, containLabel: false }) - 1;
  const ax = transportAxes(gi, col, row, p.r === 2);
  p.lines.forEach(([data, k], i) => {
    const st = LINE_STYLE[k];
    addLine(names[k], data, st.color, st.width, ax, st.smooth, 3 + i);
  });
  addErrorBar(names[0], p.err, ax);
  graphics.push({
    type: 'text', x: col.left + col.width / 2, y: row.titleY, z: 50,
    style: { text: TITLES[p.r], fontSize: 17, fontWeight: 'bold', fill: '#000', fontFamily: FONT,
      textAlign: 'center', textVerticalAlign: 'middle' }
  });
  graphics.push({
    type: 'text', x: col.left + 14.5, y: row.top + row.letterDy, z: 50,
    style: { text: LETTERS[p.c][p.r], fontSize: 14, fontWeight: 'bold', fill: '#000', fontFamily: FONT,
      textAlign: 'center', textVerticalAlign: 'middle' }
  });
});

// bathymetry sections (GMT style, ticks outside)
BATHY_COLS.forEach((col, ci) => {
  const left = col.left, top = BATHY_ROW.top, w = col.width, h = BATHY_ROW.height;
  graphics.push({
    type: 'rect', z: -10, silent: true,
    shape: { x: left - 38, y: top - 7, width: w + 50, height: h + 24 },
    style: { fill: '#fbfbf1' }
  });
  const gi = grids.push({ left, top, width: w, height: h, containLabel: false }) - 1;
  const xb = xAxes.push(axisBase(gi, {
    position: 'bottom', min: col.xmin, max: col.xmax,
    name: 'Longitude', nameLocation: 'middle', nameGap: 27,
    nameTextStyle: { fontSize: 16.5, color: '#3a3a3a', fontFamily: FONT },
    axisTick: { show: true, inside: false, length: 4, customValues: BATHY_LON_TICKS, lineStyle: { color: FRAME } },
    axisLabel: { show: true, customValues: LON_TICKS, formatter: v => String(v), margin: 8,
      fontSize: 11, color: TEXT, fontFamily: FONT }
  })) - 1;
  xAxes.push(axisBase(gi, {
    position: 'top', min: col.xmin, max: col.xmax,
    axisTick: { show: true, inside: false, length: 4, customValues: BATHY_LON_TICKS, lineStyle: { color: FRAME } }
  }));
  const yl = yAxes.push(axisBase(gi, {
    position: 'left', min: 0, max: 6000, inverse: true,
    axisTick: { show: true, inside: false, length: 4, customValues: DEPTH_TICKS, lineStyle: { color: FRAME } },
    axisLabel: { show: true, customValues: DEPTH_LABELS, formatter: v => String(v), margin: 7,
      fontSize: 11, color: TEXT, fontFamily: FONT }
  })) - 1;
  yAxes.push(axisBase(gi, {
    position: 'right', min: 0, max: 6000, inverse: true,
    axisTick: { show: true, inside: false, length: 4, customValues: DEPTH_TICKS, lineStyle: { color: FRAME } }
  }));
  series.push({
    type: 'line', name: 'Depth' + (ci ? ' ' : ''), data: bathymetry,
    xAxisIndex: xb, yAxisIndex: yl,
    symbol: 'none', showSymbol: false, smooth: false,
    lineStyle: { color: '#000', width: 0.6 },
    areaStyle: { color: '#000', opacity: 1, origin: 'end' },
    z: 2, clip: true, silent: true, animation: false
  });
  // feature names placed in data coordinates via a custom series
  series.push({
    type: 'custom', name: 'Features' + (ci ? ' ' : ''), data: FEATURES,
    xAxisIndex: xb, yAxisIndex: yl, encode: { x: 1, y: 2 }, z: 20, silent: true, animation: false,
    renderItem: (params, api) => {
      const f = FEATURES[params.dataIndex];
      const pt = api.coord([f[1], f[2]]);
      return {
        type: 'text', x: pt[0], y: pt[1], rotation: f[3] ? Math.PI / 2 : 0,
        style: { text: f[0], fill: '#ffffff', fontSize: 8.5, fontFamily: FONT,
          textAlign: f[3] ? 'left' : 'center', textVerticalAlign: 'middle' }
      };
    }
  });
});

function legendFor(names, pos) {
  return {
    orient: 'vertical', left: pos.left, top: pos.top,
    itemWidth: 40, itemHeight: 14, itemGap: 4,
    padding: [6, pos.padRight, 6, 4],
    borderColor: FRAME, borderWidth: 1, backgroundColor: '#ffffff',
    textStyle: { fontSize: 14, color: '#000', fontFamily: FONT },
    itemStyle: { borderWidth: 0 },
    selectedMode: false, z: 30,
    data: names.map((n, i) => ({ name: n, icon: i === 0 ? ICON_CRUISE : ICON_LINE }))
  };
}

const chart = echarts.init(document.getElementById('chart'), null, { renderer: 'canvas' });
chart.setOption({
  backgroundColor: '#ffffff',
  animation: false,
  textStyle: { fontFamily: FONT },
  grid: grids,
  xAxis: xAxes,
  yAxis: yAxes,
  legend: [legendFor(NAMES_1992, LEGEND_POS[0]), legendFor(NAMES_2003, LEGEND_POS[1])],
  graphic: { elements: graphics },
  series
});
</script>
</body>
</html>
